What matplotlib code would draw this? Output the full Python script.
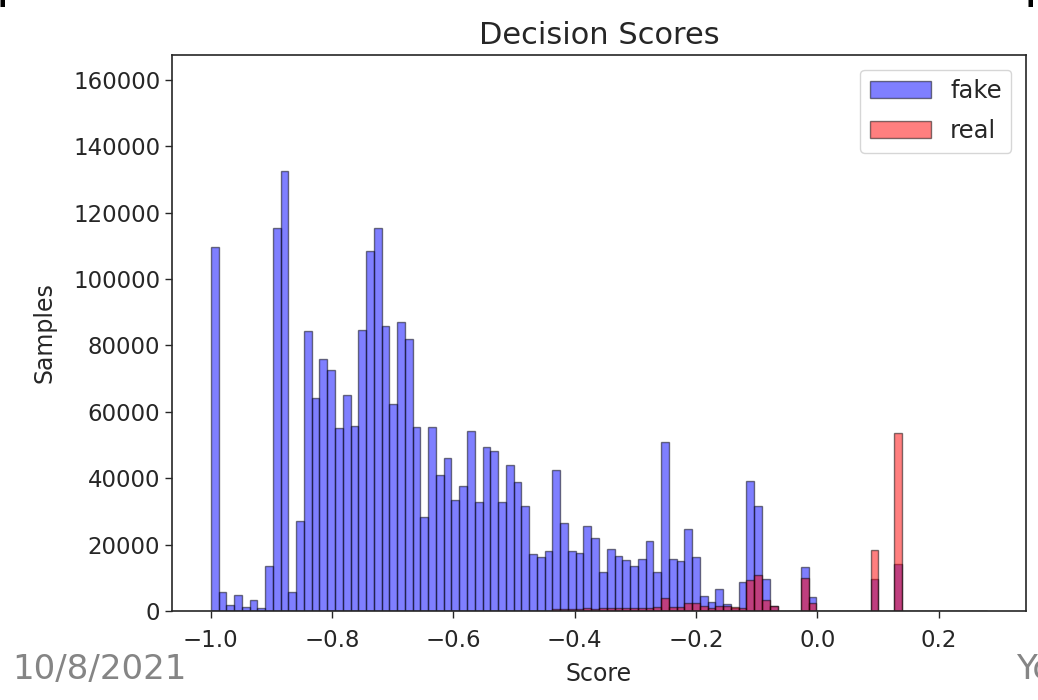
import numpy as np
import matplotlib
matplotlib.use('Agg')
import matplotlib.pyplot as plt

# histogram counts, 100 shared bins over [-1.0, 0.28]
bin_lo, bin_hi, n_bins = -1.0, 0.28, 100

fake_counts = [
    109600, 5600, 1700, 4800, 1200, 3300, 800, 13500, 115500, 132500,
    5700, 27000, 84300, 64300, 75800, 72500, 55200, 65000, 55800, 84800,
    108500, 115300, 85800, 62500, 87000, 82000, 55500, 28300, 55500, 41000,
    46200, 33300, 37700, 54100, 32800, 49400, 48100, 32800, 43900, 38800,
    31700, 17200, 16400, 18000, 42400, 26400, 18000, 17500, 25700, 21900,
    11800, 18800, 16600, 15500, 13700, 15800, 21000, 11800, 50800, 15800,
    15000, 24800, 16400, 4400, 2700, 6600, 2200, 1000, 8700, 39300,
    31700, 9500, 1600, 0, 0, 0, 13400, 4100, 0, 0,
    0, 0, 0, 0, 0, 9600, 0, 0, 14200, 0,
    0, 0, 0, 0, 0, 0, 0, 0, 0, 0,
]

real_counts = [
    0, 0, 0, 0, 0, 0, 0, 0, 0, 0,
    0, 0, 0, 0, 0, 0, 0, 0, 0, 0,
    0, 0, 0, 0, 0, 0, 0, 0, 0, 0,
    0, 0, 0, 0, 0, 0, 0, 0, 0, 0,
    0, 0, 0, 0, 700, 500, 600, 700, 800, 700,
    800, 900, 900, 800, 900, 1000, 900, 1100, 3900, 1100,
    1200, 2500, 2500, 1400, 1000, 1500, 1500, 1200, 1000, 9300,
    10800, 3300, 1500, 0, 0, 0, 10000, 2300, 0, 0,
    0, 0, 0, 0, 0, 18300, 0, 0, 53500, 0,
    0, 0, 0, 0, 0, 0, 0, 0, 0, 0,
]

x_ticks = [-1.0, -0.8, -0.6, -0.4, -0.2, 0.0, 0.2]
y_ticks = [0, 20000, 40000, 60000, 80000, 100000, 120000, 140000, 160000]

edges = np.linspace(bin_lo, bin_hi, n_bins + 1)
centers = (edges[:-1] + edges[1:]) / 2

plt.rcParams['font.family'] = ['DejaVu Sans']
ink = '#262626'

fig = plt.figure(figsize=(10.38, 7.0), dpi=100)
ax = fig.add_axes([0.1657, 0.1271, 0.8227, 0.7943])

ax.hist(centers, bins=edges, weights=fake_counts, color='blue', alpha=0.5,
        edgecolor='black', label='fake')
ax.hist(centers, bins=edges, weights=real_counts, color='red', alpha=0.5,
        edgecolor='black', label='real')

ax.set_ylim(0, 167500)
ax.set_xticks(x_ticks)
ax.set_yticks(y_ticks)
ax.tick_params(labelsize=16.5, length=5, width=1, colors=ink)
ax.tick_params(axis='x', pad=8)
for s in ax.spines.values():
    s.set_linewidth(1.2)
    s.set_color(ink)

ax.set_title('Decision Scores', fontsize=22, pad=8, color=ink)
ax.set_xlabel('Score', fontsize=17, labelpad=7, color=ink)
ax.set_ylabel('Samples', fontsize=17, labelpad=12, color=ink)
ax.legend(loc='upper right', fontsize=17.5, handlelength=2.5,
          labelspacing=0.65, labelcolor=ink, borderaxespad=0.6)

# bits of the slide around the chart
fig.text(12 / 1038, 1 - 679 / 700, '10/8/2021', color='#858585', fontsize=24.5)
fig.text(1016 / 1038, 1 - 679 / 700, 'Yo', color='#858585', fontsize=24.5)
fig.text(-5 / 1038, 1 + 3 / 700, 'p', color='black', fontsize=36)
fig.text(1024 / 1038, 1 + 3 / 700, 'p', color='black', fontsize=36)

fig.savefig('out.png', dpi=100)
